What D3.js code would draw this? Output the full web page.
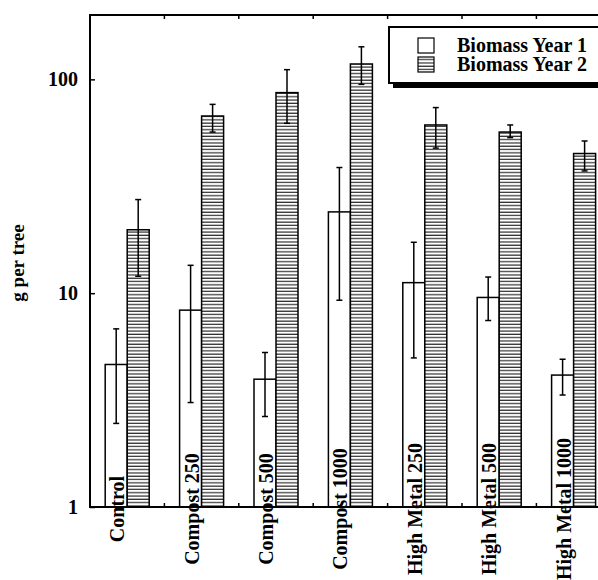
<!DOCTYPE html>
<html lang="en">
<head>
<meta charset="UTF-8">
<script src="https://cdn.jsdelivr.net/npm/d3@7/dist/d3.min.js"></script>
<style>
    body { margin: 0; background: #fff; }
    svg text { font-family: "Liberation Serif", "Times New Roman", serif; font-weight: bold; fill: #000; }
</style>
</head>
<body>
<div id="chart"></div>
<script>
    var categories = ["Control", "Compost 250", "Compost 500", "Compost 1000", "High Metal 250", "High Metal 500", "High Metal 1000"];
    var series = ["Biomass Year 1", "Biomass Year 2"];
    var year1 = [4.64, 8.33, 3.96, 24.0, 11.2, 9.55, 4.14];
    var year1Hi = [6.81, 13.5, 5.28, 38.7, 17.3, 11.9, 4.91];
    var year1Lo = [2.46, 3.08, 2.65, 9.27, 4.98, 7.45, 3.34];
    var year2 = [19.8, 67.4, 86.7, 118, 61.2, 56.7, 45.0];
    var year2Hi = [27.4, 76.4, 111, 142, 73.8, 61.2, 51.5];
    var year2Lo = [12.0, 56.7, 62.3, 94.8, 47.7, 53.4, 37.3];
    var yTicks = [1, 10, 100];

    var width = 598, height = 580;
    var plotL = 90, plotT = 15, plotB = 507, bandW = 74.4;
    var plotR = plotL + bandW * categories.length;

    var svg = d3.select('#chart').append('svg').attr('width', width).attr('height', height);

    // hatch for year 2
    var pat = svg.append('defs').append('pattern').attr('id', 'hatch')
        .attr('patternUnits', 'userSpaceOnUse').attr('width', 6).attr('height', 3.3);
    pat.append('rect').attr('width', 6).attr('height', 3.3).attr('fill', '#fff');
    pat.append('line').attr('x1', 0).attr('x2', 6).attr('y1', 1).attr('y2', 1)
        .attr('stroke', '#000').attr('stroke-width', 1);

    var x = d3.scaleBand().domain(categories).range([plotL, plotR]).padding(0);
    var x1 = d3.scaleBand().domain(series).range([15.2, 59.2]).padding(0);
    var y = d3.scaleLog().domain([1, 200]).range([plotB, plotT]);

    var rows = categories.map(function(c, i){
        return [
            {cat: c, s: series[0], v: year1[i], hi: year1Hi[i], lo: year1Lo[i]},
            {cat: c, s: series[1], v: year2[i], hi: year2Hi[i], lo: year2Lo[i]}
        ];
    });
    var flat = d3.merge(rows);

    // bars
    svg.selectAll('rect.bar').data(flat).enter().append('rect').attr('class', 'bar')
        .attr('x', function(d){ return x(d.cat) + x1(d.s); })
        .attr('y', function(d){ return y(d.v); })
        .attr('width', x1.bandwidth())
        .attr('height', function(d){ return y(1) - y(d.v); })
        .attr('fill', function(d){ return d.s == series[0] ? '#fff' : 'url(#hatch)'; })
        .attr('stroke', '#000').attr('stroke-width', 1.5);

    // error bars
    var eb = svg.selectAll('g.err').data(flat).enter().append('g').attr('class', 'err')
        .attr('transform', function(d){ return 'translate(' + (x(d.cat) + x1(d.s) + x1.bandwidth() / 2) + ',0)'; })
        .attr('stroke', '#000').attr('stroke-width', 1.5);
    eb.append('line').attr('x1', 0).attr('x2', 0)
        .attr('y1', function(d){ return y(d.hi); }).attr('y2', function(d){ return y(d.lo); });
    eb.append('line').attr('x1', -3).attr('x2', 3)
        .attr('y1', function(d){ return y(d.hi); }).attr('y2', function(d){ return y(d.hi); });
    eb.append('line').attr('x1', -3).attr('x2', 3)
        .attr('y1', function(d){ return y(d.lo); }).attr('y2', function(d){ return y(d.lo); });

    // frame
    svg.append('rect').attr('x', plotL).attr('y', plotT).attr('width', plotR - plotL).attr('height', plotB - plotT)
        .attr('fill', 'none').attr('stroke', '#000').attr('stroke-width', 2);

    // band boundary ticks, top and bottom
    var bounds = categories.slice(1);
    svg.selectAll('line.tb').data(bounds).enter().append('line')
        .attr('x1', function(d){ return x(d); }).attr('x2', function(d){ return x(d); })
        .attr('y1', plotT).attr('y2', plotT + 4).attr('stroke', '#000').attr('stroke-width', 1.5);
    svg.selectAll('line.bt').data(bounds).enter().append('line')
        .attr('x1', function(d){ return x(d); }).attr('x2', function(d){ return x(d); })
        .attr('y1', plotB).attr('y2', plotB - 4).attr('stroke', '#000').attr('stroke-width', 1.5);

    // y axis
    var yAxis = svg.append('g').attr('transform', 'translate(' + plotL + ',0)')
        .call(d3.axisLeft(y).tickValues(yTicks).tickFormat(d3.format('d')).tickSizeInner(-5).tickSizeOuter(0).tickPadding(12));
    yAxis.select('.domain').remove();
    yAxis.selectAll('.tick line').attr('stroke-width', 1.5);
    yAxis.selectAll('text').attr('font-size', 20).attr('dy', '0.3em')
        .style('font-family', '"Liberation Serif", "Times New Roman", serif').style('font-weight', 'bold');

    // category labels
    svg.selectAll('text.cat').data(categories).enter().append('text').attr('class', 'cat')
        .attr('transform', function(d){ return 'translate(' + (x(d) + x.bandwidth() / 2 - 3) + ',509) rotate(-90)'; })
        .attr('text-anchor', 'middle').attr('font-size', 20)
        .text(function(d){ return d; });

    // y title
    svg.append('text').attr('transform', 'translate(24,263) rotate(-90)')
        .attr('text-anchor', 'middle').attr('font-size', 19).text('g per tree');

    // legend
    var lg = svg.append('g');
    lg.append('rect').attr('x', 393).attr('y', 31).attr('width', 240).attr('height', 57).attr('fill', '#000');
    lg.append('rect').attr('x', 389).attr('y', 27).attr('width', 240).attr('height', 56)
        .attr('fill', '#fff').attr('stroke', '#000').attr('stroke-width', 2);
    var li = lg.selectAll('g.li').data(series).enter().append('g')
        .attr('transform', function(d, i){ return 'translate(0,' + (i * 19) + ')'; });
    li.append('rect').attr('x', 418).attr('y', 38).attr('width', 16).attr('height', 15)
        .attr('fill', function(d, i){ return i == 0 ? '#fff' : 'url(#hatch)'; })
        .attr('stroke', '#000').attr('stroke-width', 1.2);
    li.append('text').attr('x', 457).attr('y', 52).attr('font-size', 20).text(function(d){ return d; });
</script>
</body>
</html>
